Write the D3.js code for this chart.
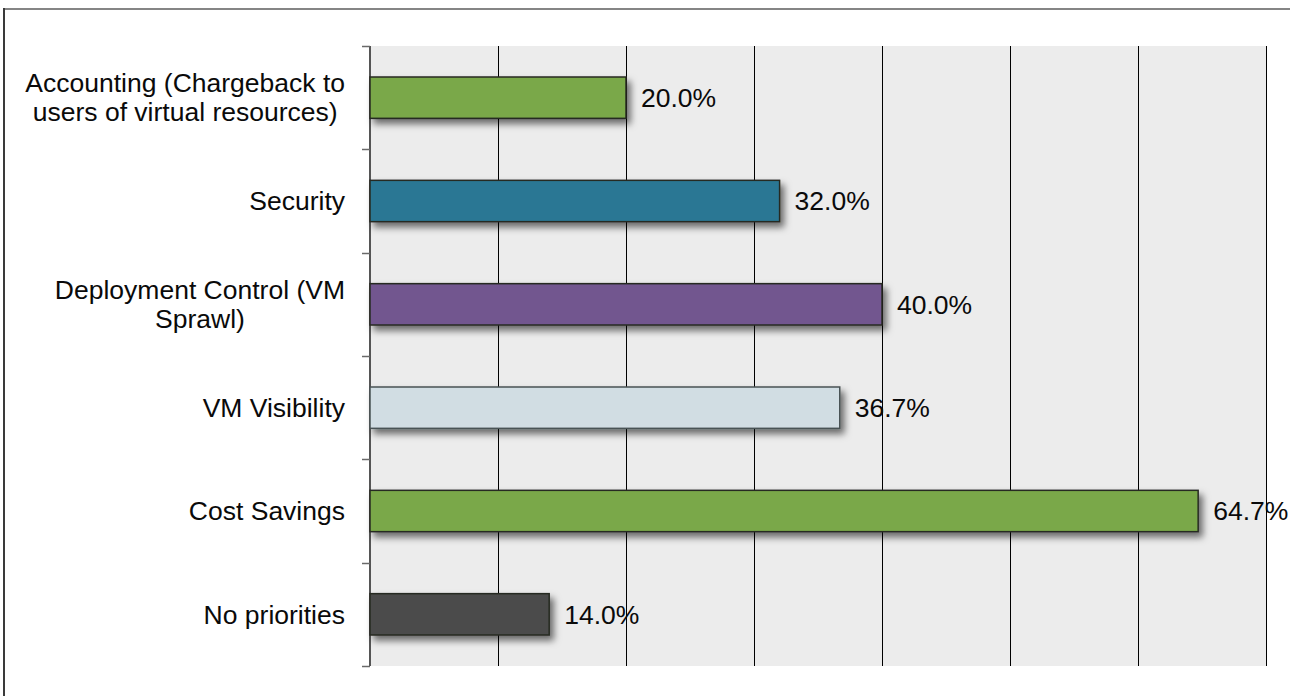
<!DOCTYPE html>
<html>
<head>
<meta charset="utf-8">
<script src="https://cdn.jsdelivr.net/npm/d3@7/dist/d3.min.js"></script>
<style>
  html, body { margin: 0; padding: 0; background: #ffffff; }
  svg { display: block; }
  text { font-family: "Liberation Sans", Arial, Helvetica, sans-serif; fill: #0a0a0a; }
</style>
</head>
<body>
<svg id="chart" width="1290" height="696"></svg>
<script>
// Survey priorities (share of respondents, %)
const categories = [
  "Accounting (Chargeback to\nusers of virtual resources)",
  "Security",
  "Deployment Control (VM\nSprawl)",
  "VM Visibility",
  "Cost Savings",
  "No priorities"
];
const values = [20.0, 32.0, 40.0, 36.7, 64.7, 14.0];
const barColors = ["#7aa84a", "#2b7794", "#72568f", "#d1dde3", "#7aa84a", "#4b4b4b"];
const gridTicks = [0, 10, 20, 30, 40, 50, 60, 70];

const svg = d3.select("#chart");
const W = 1290, H = 696;
const plot = { left: 370, right: 1266, top: 46, bottom: 666 };
const fontSize = 26.5;

const x = d3.scaleLinear().domain([0, 70]).range([plot.left, plot.right]);
const y = d3.scaleBand().domain(categories)
  .range([plot.top, plot.bottom])
  .paddingInner(0.6).paddingOuter(0.3);

// drop shadow for bars
const defs = svg.append("defs");
const f = defs.append("filter").attr("id", "shadow")
  .attr("x", "-5%").attr("y", "-30%").attr("width", "115%").attr("height", "190%");
f.append("feDropShadow").attr("dx", 4).attr("dy", 5)
  .attr("stdDeviation", 3.5).attr("flood-color", "#000").attr("flood-opacity", 0.55);

// outer frame
svg.append("line").attr("x1", 4).attr("x2", W).attr("y1", 9).attr("y2", 9)
  .attr("stroke", "#858585").attr("stroke-width", 2);
svg.append("line").attr("x1", 4).attr("x2", 4).attr("y1", 8).attr("y2", H)
  .attr("stroke", "#3a3a3a").attr("stroke-width", 2);

// plot background
svg.append("rect")
  .attr("x", plot.left).attr("y", plot.top)
  .attr("width", plot.right - plot.left).attr("height", plot.bottom - plot.top)
  .attr("fill", "#ececec");

// vertical gridlines
svg.append("g").selectAll("line").data(gridTicks.slice(1)).join("line")
  .attr("x1", d => Math.round(x(d)) + 0.5).attr("x2", d => Math.round(x(d)) + 0.5)
  .attr("y1", plot.top).attr("y2", plot.bottom)
  .attr("stroke", "#000").attr("stroke-width", 1);

// category axis line and ticks at band boundaries
const step = y.step();
const boundaries = d3.range(categories.length + 1).map(i => plot.top + i * step);
svg.append("line").attr("x1", plot.left).attr("x2", plot.left)
  .attr("y1", plot.top).attr("y2", plot.bottom)
  .attr("stroke", "#555").attr("stroke-width", 2);
svg.append("g").selectAll("line").data(boundaries).join("line")
  .attr("x1", plot.left - 8).attr("x2", plot.left)
  .attr("y1", d => Math.round(d) + 0.5).attr("y2", d => Math.round(d) + 0.5)
  .attr("stroke", "#6a6a6a").attr("stroke-width", 1.5);

// bars
svg.append("g").selectAll("rect").data(categories).join("rect")
  .attr("x", x(0))
  .attr("y", d => y(d))
  .attr("width", (d, i) => x(values[i]) - x(0))
  .attr("height", y.bandwidth())
  .attr("fill", (d, i) => barColors[i])
  .attr("stroke", (d, i) => i === 3 ? "#4a5254" : "#262a22")
  .attr("stroke-width", 1.5)
  .attr("filter", "url(#shadow)");

// value labels
svg.append("g").selectAll("text").data(categories).join("text")
  .attr("x", (d, i) => x(values[i]) + 15)
  .attr("y", d => y(d) + y.bandwidth() / 2)
  .attr("dy", "0.35em")
  .attr("font-size", fontSize)
  .text((d, i) => d3.format(".1f")(values[i]) + "%");

// category labels: block right-aligned to the axis, lines centred within it
const labelRight = 345;
const lineH = 29;
const labels = svg.append("g");
categories.forEach(c => {
  const lines = c.split("\n");
  const g = labels.append("g");
  const texts = lines.map((ln, k) => g.append("text")
    .attr("font-size", fontSize)
    .attr("text-anchor", "middle")
    .attr("dy", "0.35em")
    .attr("y", y(c) + y.bandwidth() / 2 + (k - (lines.length - 1) / 2) * lineH)
    .text(ln));
  const maxW = d3.max(texts, t => t.node().getComputedTextLength());
  texts.forEach(t => t.attr("x", labelRight - maxW / 2));
});
</script>
</body>
</html>
